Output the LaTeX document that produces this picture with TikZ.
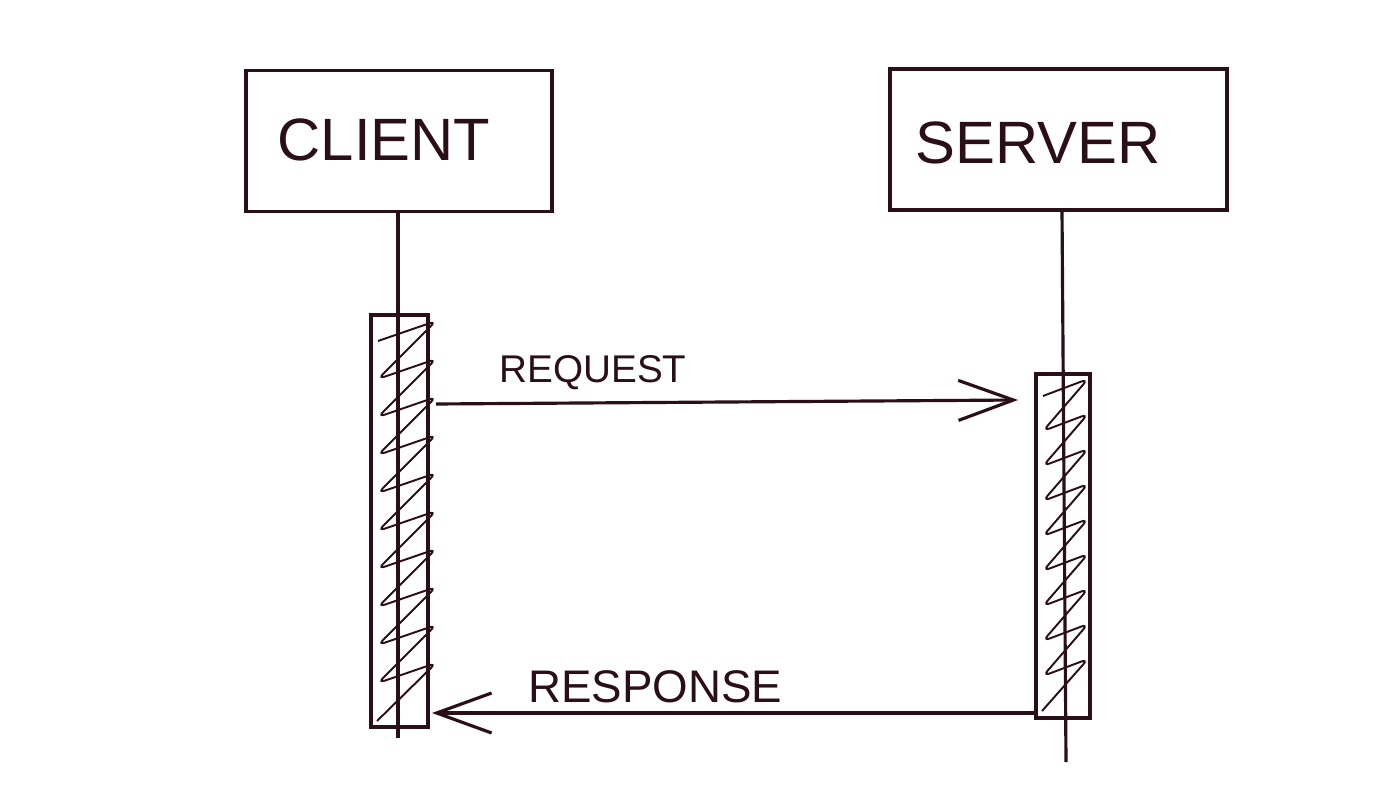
\documentclass[tikz,border=0pt]{standalone}
\usepackage{fontspec}
\setmainfont{Liberation Sans}
\usetikzlibrary{arrows.meta}
\definecolor{ink}{HTML}{2B0F16}
\tikzset{
  lifebox/.style={draw=ink, line width=0.9pt, minimum width=#1, minimum height=1.41cm, inner sep=0pt},
  boxtitle/.style={text=ink, font=\fontsize{17}{20}\selectfont},
  actbar/.style={draw=ink, line width=0.9pt},
  msg/.style={text=ink, inner sep=1pt},
  scribble/.style={draw=ink, line width=0.55pt, rounded corners=2pt}
}
\begin{document}
\begin{tikzpicture}[>={Straight Barb[length=5.5mm,width=4mm]}, line width=0.9pt, draw=ink]
  \useasboundingbox[fill=white] (0,0) rectangle (13.95,7.85);
  % boxes
  \node[lifebox=3.06cm] (client) at (3.99,6.44) {};
  \node[lifebox=3.37cm] (server) at (10.585,6.455) {};
  \node[boxtitle] (clienttxt) at (3.84,6.45) {CLIENT};
  \node[boxtitle] (servertxt) at (10.38,6.42) {SERVER};
  % activation bars
  \draw[actbar] (3.71,0.58) rectangle (4.28,4.70);
  \draw[actbar] (10.36,0.67) rectangle (10.90,4.11);
  \coordinate (cbot) at (3.98,0.47);
  \coordinate (sbot) at (10.66,0.23);
  \draw[ink] (client.south -| cbot) -- (cbot);
  \draw[ink] (server.south -| 10.62,0) -- (sbot);
  % scribbles
  \draw[scribble] (3.77,0.64) \foreach \k in {0,...,9} { -- (4.36,0.64+0.38*\k+0.58) -- (3.78,0.64+0.38*\k+0.38) };
  \draw[scribble] (10.42,0.74) \foreach \k in {0,...,8} { -- (10.88,0.74+0.35*\k+0.52) -- (10.43,0.74+0.35*\k+0.35) };
  % messages
  \coordinate (reqfrom) at (4.36,3.81);
  \coordinate (reqto) at (10.18,3.85);
  \coordinate (resfrom) at (10.36,0.72);
  \coordinate (resto) at (4.32,0.72);
  \draw[->, ink] (reqfrom) -- node[msg, above=0.08cm, pos=0.27, font=\fontsize{11}{13}\selectfont] (reqlabel) {REQUEST} (reqto);
  \draw[->, ink] (resfrom) -- node[msg, above=0.05cm, pos=0.63, font=\fontsize{13}{15}\selectfont] (reslabel) {RESPONSE} (resto);
\end{tikzpicture}
\end{document}
